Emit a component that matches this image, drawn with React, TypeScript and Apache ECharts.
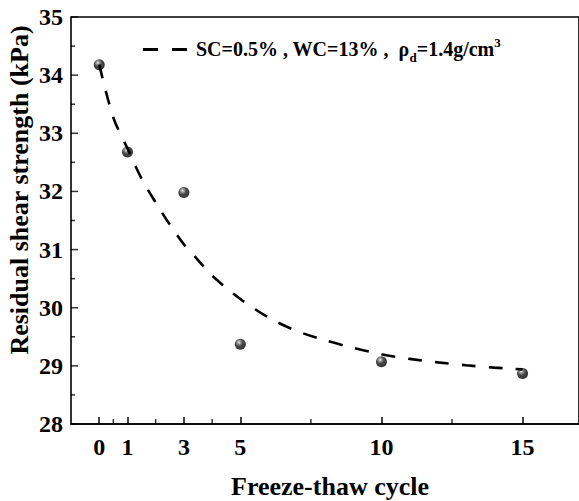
import React, { useEffect, useRef } from "react";
import * as echarts from "echarts";

const cycles = [0, 1, 3, 5, 10, 15];
const strength = [34.18, 32.68, 31.98, 29.37, 29.07, 28.87];
const fitCycles = [0, 0.5, 1, 1.5, 2, 2.5, 3, 3.5, 4, 5, 6, 7, 8, 9, 10, 11, 12, 13, 14, 15];
const fitStrength = [34.18, 33.27, 32.74, 32.22, 31.81, 31.43, 31.09, 30.82, 30.55, 30.15, 29.83, 29.6, 29.44, 29.31, 29.2, 29.12, 29.06, 29.01, 28.97, 28.94];
const xMajorTicks = [0, 1, 3, 5, 10, 15];
const xMinorTicks = [0.5, 2, 4, 7.5, 12.5];
const yMajorTicks = [28, 29, 30, 31, 32, 33, 34, 35];
const yMinorTicks = [28.5, 29.5, 30.5, 31.5, 32.5, 33.5, 34.5];
const xMin = -1;
const xMax = 17;
const yMin = 28;
const yMax = 35;

const FONT = '"Liberation Serif", "Times New Roman", serif';

export default function App() {
  const ref = useRef<HTMLDivElement>(null);
  useEffect(() => {
    if (!ref.current) return;
    const chart = echarts.init(ref.current, undefined, { renderer: "svg" });
    const sphere = {
      type: "radial",
      x: 0.38,
      y: 0.32,
      r: 0.7,
      colorStops: [
        { offset: 0, color: "#f4f4f4" },
        { offset: 0.18, color: "#8a8a8a" },
        { offset: 0.5, color: "#1a1a1a" },
        { offset: 1, color: "#000" },
      ],
    };
    const tickSeries = (data: number[][], size: number[], offset: number[]) => ({
      type: "scatter",
      silent: true,
      clip: false,
      data,
      symbol: "rect",
      symbolSize: size,
      symbolOffset: offset,
      itemStyle: { color: "#000" },
    });
    chart.setOption({
      animation: false,
      grid: { left: 71, top: 17, width: 511, height: 407, show: true, borderColor: "#000", borderWidth: 1.6 },
      xAxis: {
        type: "value",
        min: xMin,
        max: xMax,
        axisLine: { show: true, onZero: false, lineStyle: { color: "#000", width: 1.6 } },
        splitLine: { show: false },
        axisTick: { show: true, inside: true, length: 7, customValues: xMajorTicks, lineStyle: { color: "#000", width: 1.5 } },
        axisLabel: {
          customValues: xMajorTicks,
          margin: 11,
          color: "#000",
          fontFamily: FONT,
          fontWeight: "bold",
          fontSize: 24,
        },
      },
      yAxis: {
        type: "value",
        min: yMin,
        max: yMax,
        interval: 1,
        axisLine: { show: false, onZero: false },
        splitLine: { show: false },
        axisTick: { show: false },
        minorTick: { show: false },
        axisLabel: {
          margin: 8,
          color: "#000",
          fontFamily: FONT,
          fontWeight: "bold",
          fontSize: 24,
        },
      },
      series: [
        {
          type: "line",
          data: fitCycles.map((x, i) => [x, fitStrength[i]]),
          smooth: 0.3,
          symbol: "none",
          lineStyle: { color: "#000", width: 2.6, type: [14, 13] },
        },
        {
          type: "scatter",
          data: cycles.map((x, i) => [x, strength[i]]),
          symbol: "circle",
          symbolSize: 11,
          itemStyle: { color: sphere },
        },
        tickSeries(xMinorTicks.map((x) => [x, yMin]), [1.5, 5], [0, -2.5]),
        tickSeries(yMajorTicks.map((y) => [xMin, y]), [7, 1.5], [3.5, 0]),
        tickSeries(yMinorTicks.map((y) => [xMin, y]), [4, 1.5], [2, 0]),
      ],
      graphic: [
        {
          type: "line",
          shape: { x1: 143, y1: 49.5, x2: 188, y2: 49.5 },
          style: { stroke: "#000", lineWidth: 3, lineDash: [15, 14] },
        },
        {
          type: "text",
          x: 196,
          y: 49,
          style: {
            text: "{a|SC=0.5% , WC=13% ,  ρ}{s|d}{a|=1.4g/cm}{p|3}",
            fill: "#000",
            verticalAlign: "middle",
            align: "left",
            rich: {
              a: { fontFamily: FONT, fontWeight: "bold", fontSize: 20, lineHeight: 26, verticalAlign: "middle", fill: "#000" },
              s: { fontFamily: FONT, fontWeight: "bold", fontSize: 13, lineHeight: 14, verticalAlign: "bottom", fill: "#000", padding: [0, 0, -2, 0] },
              p: { fontFamily: FONT, fontWeight: "bold", fontSize: 13, lineHeight: 14, verticalAlign: "top", fill: "#000" },
            },
          },
        },
        {
          type: "text",
          x: 19,
          y: 190,
          rotation: Math.PI / 2,
          style: {
            text: "Residual shear strength (kPa)",
            fontFamily: FONT,
            fontWeight: "bold",
            fontSize: 26,
            fill: "#000",
            align: "center",
            verticalAlign: "middle",
          },
        },
        {
          type: "text",
          x: 330,
          y: 486,
          style: {
            text: "Freeze-thaw cycle",
            fontFamily: FONT,
            fontWeight: "bold",
            fontSize: 26,
            fill: "#000",
            align: "center",
            verticalAlign: "middle",
          },
        },
      ],
    });
    return () => chart.dispose();
  }, []);
  return (
    <div
      ref={ref}
      style={{ position: "fixed", left: 0, top: 0, width: 579, height: 501, background: "#fff" }}
    />
  );
}
